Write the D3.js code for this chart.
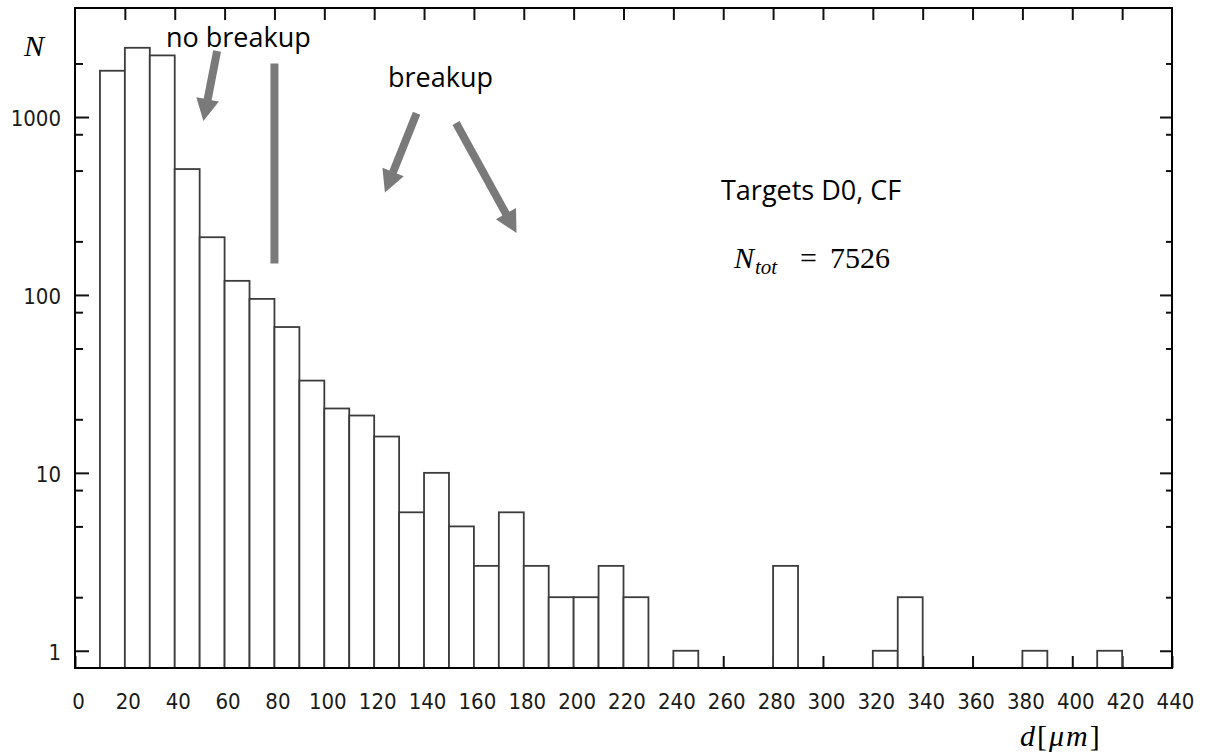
<!DOCTYPE html>
<html>
<head>
<meta charset="utf-8">
<script src="https://cdn.jsdelivr.net/npm/d3@7"></script>
<style>
  body { margin: 0; background: #fff; }
  .tick text { font-family: "DejaVu Sans Condensed", "DejaVu Sans", sans-serif; font-size: 22px; fill: #1a1a1a; }
  .note { font-family: "Open Sans", sans-serif; font-size: 27px; fill: #000; }
  .math { font-family: "Liberation Serif", "DejaVu Serif", serif; font-size: 30px; fill: #000; }
</style>
</head>
<body>
<script>
// histogram of droplet diameters, bins 10 um wide (only non empty bins listed)
var binStart = [10, 20, 30, 40, 50, 60, 70, 80, 90, 100, 110, 120, 130, 140, 150, 160, 170, 180, 190, 200, 210, 220, 240, 280, 320, 330, 380, 410];
var counts   = [1820, 2450, 2220, 510, 211, 120, 95, 66, 33, 23, 21, 16, 6, 10, 5, 3, 6, 3, 2, 2, 3, 2, 1, 3, 1, 2, 1, 1];
var binWidth = 10;

var xTicks = [0, 20, 40, 60, 80, 100, 120, 140, 160, 180, 200, 220, 240, 260, 280, 300, 320, 340, 360, 380, 400, 420, 440];
var yMajor = [1, 10, 100, 1000];
var yMinor = [2, 5, 8, 20, 50, 80, 200, 500, 800, 2000];

// arrows in data coordinates: [d0, N0, d1, N1] (tail -> tip)
var arrows = [
  [57, 2350, 51.5, 950],
  [137, 1050, 124.3, 377],
  [152.8, 925, 177.1, 223]
];
// "no breakup" / "breakup" divider
var divider = [80, 150, 2000];

var width = 1207, height = 755;
var margin = {top: 8, right: 35, bottom: 87, left: 75};

var svg = d3.select("body").append("svg")
    .attr("width", width)
    .attr("height", height);

var x = d3.scaleLinear().domain([0, 440]).range([margin.left, width - margin.right]);
var y = d3.scaleLog().domain([0.8, 4100]).range([height - margin.bottom, margin.top]);

var x0 = x.range()[0], x1 = x.range()[1], y0 = y.range()[0], y1 = y.range()[1];

function tickStyle(g) {
  g.select(".domain").remove();
  g.selectAll(".tick line").attr("stroke", "#111").attr("stroke-width", 2);
}

// bottom ticks (under the bars)
svg.append("g")
    .attr("transform", "translate(0," + y0 + ")")
    .call(d3.axisBottom(x).tickValues(xTicks).tickSizeInner(-12).tickSizeOuter(0).tickPadding(25))
    .call(tickStyle)
    .call(function(g) { g.selectAll(".tick text").attr("dx", 3); });

// top ticks
svg.append("g")
    .attr("transform", "translate(0," + y1 + ")")
    .call(d3.axisTop(x).tickValues(xTicks.slice(1, -1)).tickSizeInner(-12).tickSizeOuter(0).tickFormat(""))
    .call(tickStyle);

// left axis
svg.append("g")
    .attr("transform", "translate(" + x0 + ",0)")
    .call(d3.axisLeft(y).tickValues(yMajor).tickFormat(d3.format("d")).tickSizeInner(-14).tickSizeOuter(0).tickPadding(14))
    .call(tickStyle)
    .call(function(g) { g.selectAll(".tick text").attr("dy", "0.4em"); });
svg.append("g")
    .attr("transform", "translate(" + x0 + ",0)")
    .call(d3.axisLeft(y).tickValues(yMinor).tickFormat("").tickSizeInner(-8).tickSizeOuter(0))
    .call(tickStyle);

// right axis
svg.append("g")
    .attr("transform", "translate(" + x1 + ",0)")
    .call(d3.axisRight(y).tickValues(yMajor).tickFormat("").tickSizeInner(-12).tickSizeOuter(0))
    .call(tickStyle);
svg.append("g")
    .attr("transform", "translate(" + x1 + ",0)")
    .call(d3.axisRight(y).tickValues(yMinor).tickFormat("").tickSizeInner(-6).tickSizeOuter(0))
    .call(tickStyle);

// bars
svg.selectAll(".bar")
    .data(binStart)
    .enter().append("rect")
    .attr("class", "bar")
    .attr("x", function(d) { return x(d); })
    .attr("width", function(d) { return x(d + binWidth) - x(d); })
    .attr("y", function(d, i) { return y(counts[i]); })
    .attr("height", function(d, i) { return y0 - y(counts[i]); })
    .attr("fill", "#fff")
    .attr("stroke", "#3c3c3c")
    .attr("stroke-width", 1.8);

// frame
svg.append("rect")
    .attr("x", x0).attr("y", y1)
    .attr("width", x1 - x0).attr("height", y0 - y1)
    .attr("fill", "none")
    .attr("stroke", "#000")
    .attr("stroke-width", 2);

// annotations
var grey = "#7a7a7a";
svg.append("line")
    .attr("x1", x(divider[0])).attr("x2", x(divider[0]))
    .attr("y1", y(divider[1])).attr("y2", y(divider[2]))
    .attr("stroke", grey)
    .attr("stroke-width", 8);

function arrowPath(a) {
  var ax = x(a[0]), ay = y(a[1]), bx = x(a[2]), by = y(a[3]);
  var dx = bx - ax, dy = by - ay, len = Math.sqrt(dx * dx + dy * dy);
  var ux = dx / len, uy = dy / len, px = -uy, py = ux;
  var sw = 4, hw = 11.5, hl = 22;
  var hx = bx - ux * hl, hy = by - uy * hl;
  var pts = [
    [ax + px * sw, ay + py * sw],
    [hx + px * sw, hy + py * sw],
    [hx + px * hw, hy + py * hw],
    [bx, by],
    [hx - px * hw, hy - py * hw],
    [hx - px * sw, hy - py * sw],
    [ax - px * sw, ay - py * sw]
  ];
  return "M" + pts.map(function(p) { return p[0].toFixed(1) + "," + p[1].toFixed(1); }).join("L") + "Z";
}

svg.selectAll(".arrow")
    .data(arrows)
    .enter().append("path")
    .attr("class", "arrow")
    .attr("d", arrowPath)
    .attr("fill", grey);

svg.append("text").attr("class", "note").attr("x", 166).attr("y", 47).text("no breakup");
svg.append("text").attr("class", "note").attr("x", 388).attr("y", 87).text("breakup");
svg.append("text").attr("class", "note").attr("x", 721).attr("y", 200).text("Targets D0, CF");

var ntot = svg.append("text").attr("class", "math").attr("y", 268);
ntot.append("tspan").attr("x", 734).attr("font-style", "italic").text("N");
ntot.append("tspan").attr("font-style", "italic").attr("font-size", "21px").attr("dx", 1).attr("dy", 6).text("tot");
ntot.append("tspan").attr("x", 800).attr("y", 268).text("=");
ntot.append("tspan").attr("x", 830).attr("y", 268).text("7526");

svg.append("text").attr("class", "math").attr("x", 24).attr("y", 56)
    .attr("font-style", "italic").text("N");

var dl = svg.append("text").attr("class", "math").attr("x", 1020).attr("y", 746)
    .attr("letter-spacing", 2);
dl.append("tspan").attr("font-style", "italic").text("d");
dl.append("tspan").text("[");
dl.append("tspan").attr("font-style", "italic").text("μm");
dl.append("tspan").text("]");
</script>
</body>
</html>
